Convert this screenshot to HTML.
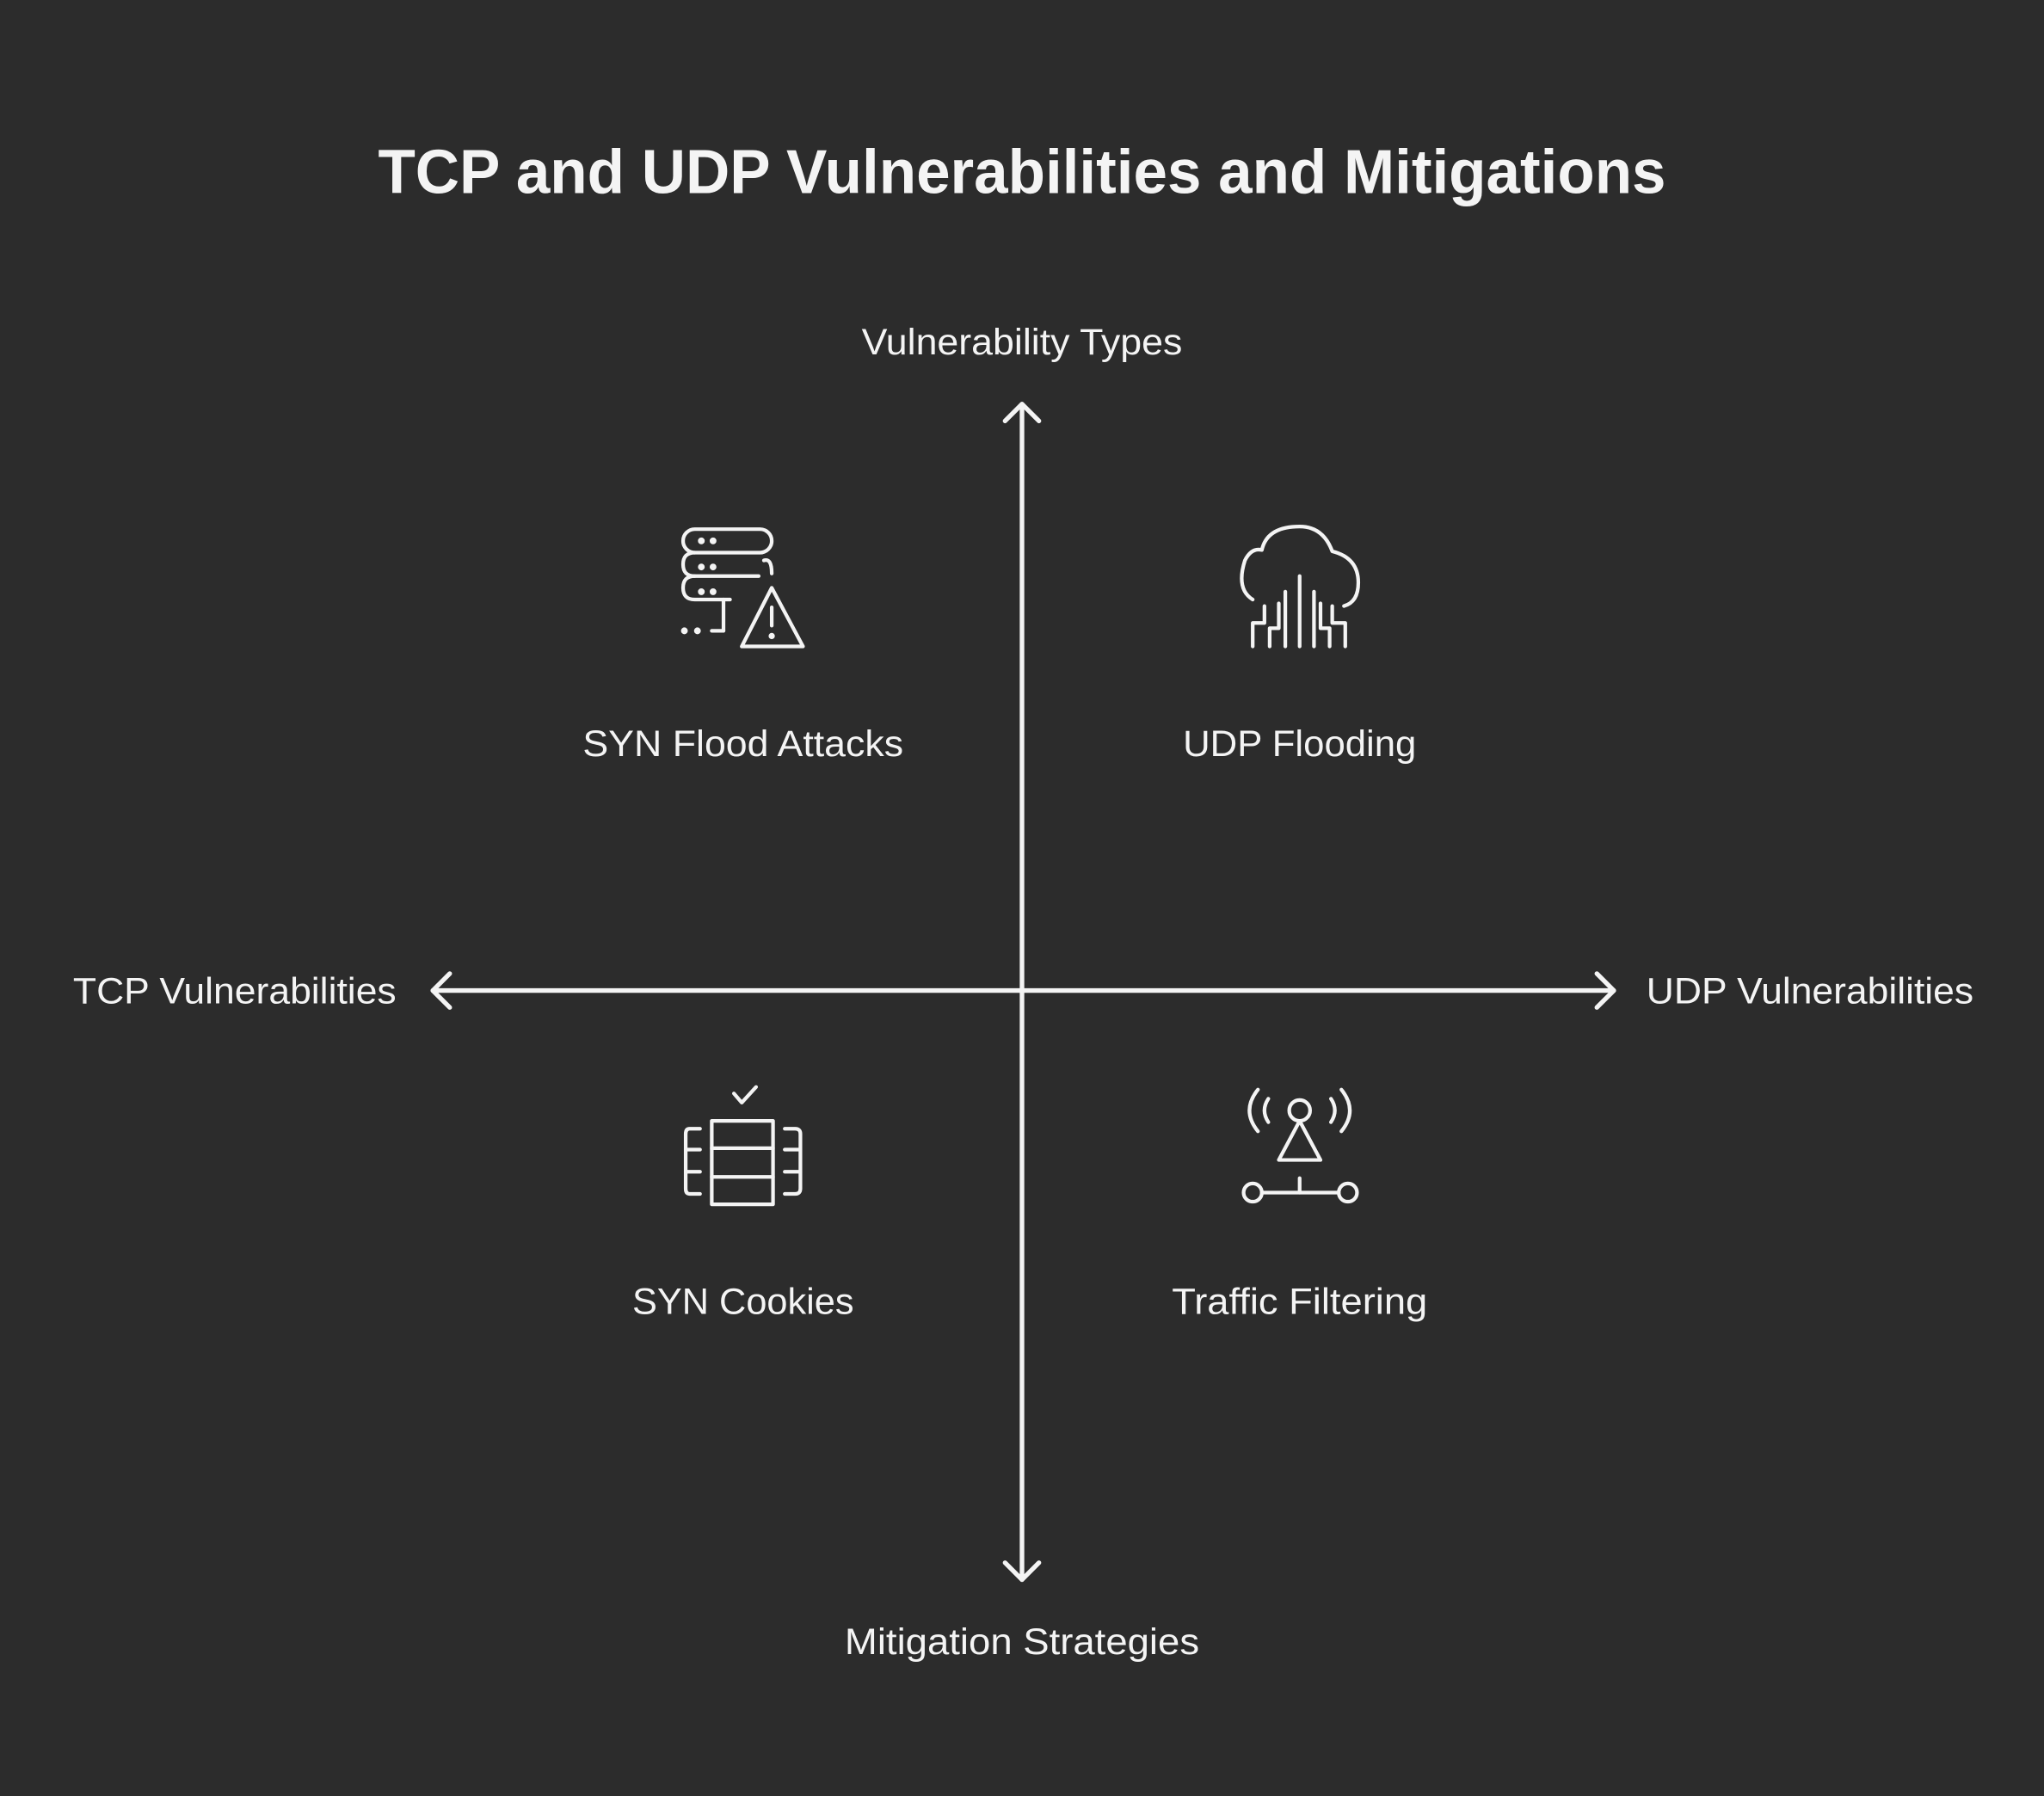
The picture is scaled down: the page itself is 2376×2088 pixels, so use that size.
<!DOCTYPE html>
<html><head><meta charset="utf-8"><style>
html,body{margin:0;padding:0;background:#2c2c2c;}
svg{display:block;}
text{font-family:"Liberation Sans",sans-serif;fill:#f4f4f4;}
</style></head><body>
<svg width="2376" height="2088" viewBox="0 0 1568 1378" xmlns="http://www.w3.org/2000/svg">
<rect width="1568" height="1378" fill="#2c2c2c"/>
<text x="784" y="148" text-anchor="middle" font-size="48" font-weight="bold" textLength="988" lengthAdjust="spacingAndGlyphs">TCP and UDP Vulnerabilities and Mitigations</text>
<g font-size="28">
<text x="784" y="272" text-anchor="middle" textLength="246" lengthAdjust="spacingAndGlyphs">Vulnerability Types</text>
<text x="784" y="1269" text-anchor="middle" textLength="272" lengthAdjust="spacingAndGlyphs">Mitigation Strategies</text>
<text x="56" y="770" textLength="248" lengthAdjust="spacingAndGlyphs">TCP Vulnerabilities</text>
<text x="1263" y="770" textLength="251" lengthAdjust="spacingAndGlyphs">UDP Vulnerabilities</text>
<text x="570" y="580" text-anchor="middle" textLength="246" lengthAdjust="spacingAndGlyphs">SYN Flood Attacks</text>
<text x="997" y="580" text-anchor="middle" textLength="179" lengthAdjust="spacingAndGlyphs">UDP Flooding</text>
<text x="570" y="1008" text-anchor="middle" textLength="170" lengthAdjust="spacingAndGlyphs">SYN Cookies</text>
<text x="997" y="1008" text-anchor="middle" textLength="196" lengthAdjust="spacingAndGlyphs">Traffic Filtering</text>
</g>
<g stroke="#f4f4f4" stroke-width="3.5" fill="none" stroke-linecap="round" stroke-linejoin="round">
<line x1="784" y1="310" x2="784" y2="1212"/>
<polyline points="771,323 784,310 797,323"/>
<polyline points="771,1199 784,1212 797,1199"/>
<line x1="332" y1="760" x2="1238" y2="760"/>
<polyline points="345,747 332,760 345,773"/>
<polyline points="1225,747 1238,760 1225,773"/>
</g>
<g stroke="#f4f4f4" stroke-width="2.8" fill="none" stroke-linecap="round" stroke-linejoin="round">
<!-- server warning -->
<rect x="524" y="406" width="68" height="18" rx="9"/>
<path d="M533,424 Q524,424 524,433 Q524,442 533,442 L582,442"/>
<path d="M586,430 Q592,428 592,440"/>
<path d="M533,442 Q524,442 524,451 Q524,460 533,460 L560,460"/>
<line x1="555" y1="460" x2="555" y2="484"/>
<line x1="555" y1="484" x2="546" y2="484"/>
<path d="M592,451 L569,496 L616,496 Z"/>
<line x1="592" y1="466" x2="592" y2="480"/>
<circle cx="592" cy="488" r="1" fill="#f4f4f4"/>
<circle cx="538" cy="415" r="1.2" fill="#f4f4f4"/><circle cx="547" cy="415" r="1.2" fill="#f4f4f4"/>
<circle cx="538" cy="435" r="1.2" fill="#f4f4f4"/><circle cx="547" cy="435" r="1.2" fill="#f4f4f4"/>
<circle cx="538" cy="454" r="1.2" fill="#f4f4f4"/><circle cx="547" cy="454" r="1.2" fill="#f4f4f4"/>
<circle cx="525" cy="484" r="1.2" fill="#f4f4f4"/><circle cx="535" cy="484" r="1.2" fill="#f4f4f4"/>
<!-- cloud -->
<path d="M961,460 Q948,452 955,430 Q960,420 968,422 Q972,404 997,404 Q1015,404 1022,423 Q1042,428 1042,447 Q1042,462 1031,465"/>
<line x1="997" y1="442" x2="997" y2="496"/>
<line x1="986" y1="454" x2="986" y2="496"/>
<line x1="1008" y1="454" x2="1008" y2="496"/>
<polyline points="981,463 981,482 974,482 974,496"/>
<polyline points="1013,463 1013,482 1020,482 1020,496"/>
<polyline points="970,465 970,478 961,478 961,496"/>
<polyline points="1022,465 1022,478 1032,478 1032,496"/>
<!-- cookies -->
<polyline points="563,839 569,846 580,834"/>
<rect x="546" y="860" width="47" height="64"/>
<line x1="546" y1="881" x2="593" y2="881"/><line x1="546" y1="903" x2="593" y2="903"/>
<path d="M537,866 L529,866 Q526,866 526,870 L526,912 Q526,916 529,916 L537,916"/>
<line x1="526" y1="882" x2="537" y2="882"/><line x1="526" y1="899" x2="537" y2="899"/>
<path d="M602,866 L610,866 Q614,866 614,870 L614,912 Q614,916 610,916 L602,916"/>
<line x1="602" y1="882" x2="614" y2="882"/><line x1="602" y1="899" x2="614" y2="899"/>
<!-- antenna -->
<circle cx="997" cy="852" r="8"/>
<path d="M997,860 L981,890 L1013,890 Z"/>
<path d="M965,836 Q952,852 965,868"/><path d="M973,843 Q967,852 973,861"/>
<path d="M1029,836 Q1042,852 1029,868"/><path d="M1021,843 Q1027,852 1021,861"/>
<circle cx="961" cy="915" r="7"/><circle cx="1034" cy="915" r="7"/>
<line x1="968" y1="915" x2="1027" y2="915"/>
<line x1="997" y1="904" x2="997" y2="915"/>
</g>
</svg>
</body></html>
